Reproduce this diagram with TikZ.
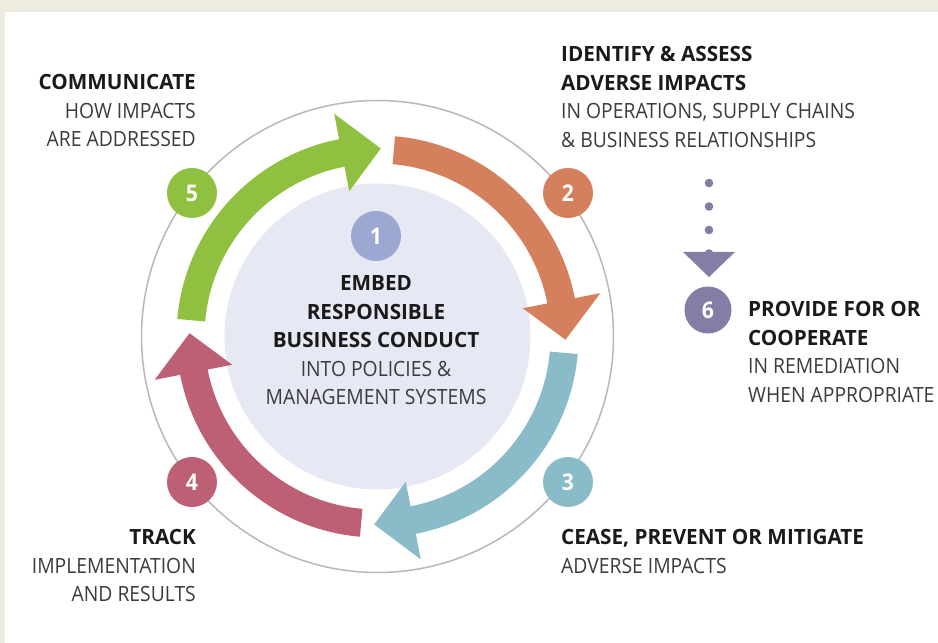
\documentclass[tikz,border=0pt]{standalone}
\usepackage{fontspec}
\setmainfont{Open Sans}[FakeStretch=0.92]
\newfontfamily\boldfam{Open Sans}[FakeStretch=0.985]
\definecolor{framec}{HTML}{EEEBE0}
\definecolor{innerc}{HTML}{E6E8F3}
\definecolor{ringc}{HTML}{B8B8B8}
\definecolor{greenc}{HTML}{8FC040}
\definecolor{orangec}{HTML}{D5805C}
\definecolor{bluec}{HTML}{8ABBC9}
\definecolor{pinkc}{HTML}{BD5F75}
\definecolor{lavc}{HTML}{9AA8D2}
\definecolor{purplec}{HTML}{857DA5}
\definecolor{boldtc}{HTML}{1A1A1A}
\definecolor{regtc}{HTML}{3C3C3C}
\newcommand\cyclearrow[4]{%
  \fill[#1] (#2:201) arc[start angle=#2,end angle=#3,radius=201] -- (#3:227) -- (#4:188) -- (#3:148) -- (#3:173) arc[start angle=#3,end angle=#2,radius=173] -- cycle;}
\newcommand\hd[1]{{\color{boldtc}\boldfam\bfseries #1}}
\tikzset{
  badge/.style={circle,minimum size=50pt,inner sep=0pt,text=white,font=\fontsize{23}{23}\selectfont\bfseries},
  label/.style={inner sep=0pt,text=regtc,font=\fontsize{21}{28.5}\selectfont},
  dotc/.style={fill=purplec}
}
\begin{document}
\begin{tikzpicture}[x=1pt,y=1pt]
\useasboundingbox (0,0) rectangle (938,643);
\fill[framec] (0,0) rectangle (938,643);
\fill[white] (5,0) rectangle (938,630.5);
\begin{scope}[shift={(377.5,306.5)}]
  \draw[ringc,line width=1.5pt] (0,0) circle[radius=236];
  \fill[innerc] (0,0) circle[radius=153];
  \cyclearrow{greenc}{175}{101}{89}
  \cyclearrow{orangec}{85}{11}{-1}
  \cyclearrow{bluec}{-5}{-79}{-91}
  \cyclearrow{pinkc}{-95}{-169}{-181}
\end{scope}
\node[badge,fill=greenc] (b5) at (192,450) {5};
\node[badge,fill=orangec] (b2) at (568,450) {2};
\node[badge,fill=bluec] (b3) at (568,161) {3};
\node[badge,fill=pinkc] (b4) at (192,161) {4};
\node[badge,fill=lavc] (b1) at (376,407) {1};
\node[badge,fill=purplec,minimum size=47pt] (b6) at (708,333) {6};
% dotted arrow to 6
\foreach \yy in {460,436.5,413,389.5}
  \fill[dotc] (709,\yy) circle[radius=4.3];
\fill[purplec] (683,391) -- (735,391) -- (709,366) -- cycle;
% texts
\node[label,anchor=north east,align=right] (commT) at (196,568.5)
  {\hd{COMMUNICATE}\\HOW IMPACTS\\ARE ADDRESSED};
\node[label,anchor=north west,align=left] (identT) at (561,596.5)
  {\hd{IDENTIFY \& ASSESS}\\\hd{ADVERSE IMPACTS}\\IN OPERATIONS, SUPPLY CHAINS\\\& BUSINESS RELATIONSHIPS};
\node[label,anchor=north,align=center] (embedT) at (376,367.5)
  {\hd{EMBED}\\\hd{RESPONSIBLE}\\\hd{BUSINESS CONDUCT}\\INTO POLICIES \&\\MANAGEMENT SYSTEMS};
\node[label,anchor=north west,align=left] (provT) at (748,341.5)
  {\hd{PROVIDE FOR OR}\\\hd{COOPERATE}\\IN REMEDIATION\\WHEN APPROPRIATE};
\node[label,anchor=north west,align=left] (ceaseT) at (561,113.5)
  {\hd{CEASE, PREVENT OR MITIGATE}\\ADVERSE IMPACTS};
\node[label,anchor=north east,align=right] (trackT) at (196,113.5)
  {\hd{TRACK}\\IMPLEMENTATION\\AND RESULTS};
\end{tikzpicture}
\end{document}
